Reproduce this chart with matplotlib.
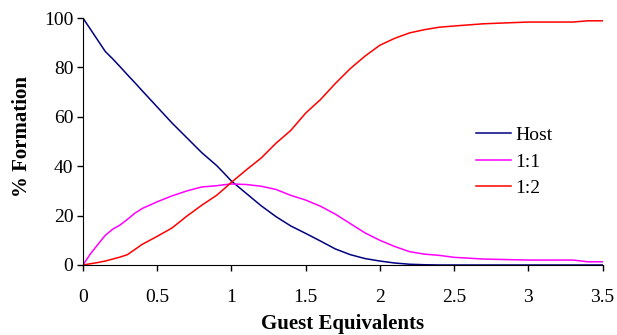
import matplotlib
matplotlib.use('Agg')
import matplotlib.pyplot as plt

# guest equivalents (x) and % formation for each species
equivalents = [0, 0.05, 0.1, 0.15, 0.2, 0.25, 0.3, 0.35, 0.4, 0.5, 0.6, 0.7, 0.8, 0.9,
               0.95, 1.0, 1.1, 1.2, 1.3, 1.4, 1.5, 1.6, 1.7, 1.8, 1.9, 2.0, 2.1, 2.2,
               2.3, 2.4, 2.5, 2.7, 3.0, 3.3, 3.4, 3.5]
host = [100, 95.5, 91, 86.5, 83.5, 80.3, 77, 73.8, 70.5, 64, 57.5, 51.5, 45.5, 40.3,
        37.2, 34, 29, 24, 19.6, 15.8, 12.8, 9.7, 6.5, 4.2, 2.6, 1.6, 0.8, 0.3,
        0.1, 0, 0, 0, 0, 0, 0, 0]
complex_11 = [0, 4.5, 8.3, 12, 14.5, 16.2, 18.5, 21, 22.9, 25.6, 28, 30, 31.6, 32.1,
              32.5, 32.8, 32.6, 31.9, 30.6, 28.2, 26.3, 23.8, 20.6, 16.8, 13, 10, 7.5, 5.4,
              4.4, 3.9, 3.1, 2.4, 2.0, 2.0, 1.3, 1.3]
complex_12 = [0, 0.5, 1, 1.6, 2.4, 3.2, 4.2, 6.3, 8.4, 11.6, 15, 19.8, 24.2, 28.2,
              30.8, 33.5, 38.5, 43.3, 49.3, 54.5, 61.5, 67, 73.5, 79.5, 84.6, 89, 91.8, 94,
              95.3, 96.3, 96.8, 97.7, 98.4, 98.4, 98.9, 98.9]
series_names = ['Host', '1:1', '1:2']
series_colors = ['#000080', '#FF00FF', '#FF0000']

plt.rcParams['font.family'] = 'Liberation Serif'

fig = plt.figure(figsize=(6.17, 3.35), dpi=100)
ax = fig.add_axes([0.1345, 0.209, 0.842, 0.737])

for vals, name, col in zip([host, complex_11, complex_12], series_names, series_colors):
    ax.plot(equivalents, vals, color=col, lw=1.1, label=name)

ax.set_xlim(0, 3.5)
ax.set_ylim(0, 100)
ax.set_xticks([0, 0.5, 1, 1.5, 2, 2.5, 3, 3.5])
ax.set_xticklabels(['0', '0.5', '1', '1.5', '2', '2.5', '3', '3.5'])
ax.set_yticks([0, 20, 40, 60, 80, 100])

ax.spines['top'].set_visible(False)
ax.spines['right'].set_visible(False)
ax.tick_params(axis='both', direction='out', length=4, width=1, labelsize=14)
ax.tick_params(axis='x', pad=13)
ax.tick_params(axis='y', pad=3)

ax.set_xlabel('Guest Equivalents', fontsize=15, fontweight='bold', labelpad=6)
ax.set_ylabel('% Formation', fontsize=15, fontweight='bold', labelpad=6)
ax.yaxis.set_label_coords(-0.099, 0.52)

ax.legend(loc='upper left', bbox_to_anchor=(0.738, 0.60), frameon=False, fontsize=14,
          handlelength=1.8, handletextpad=0.2, labelspacing=0.45, borderpad=0)

fig.savefig('out.png', dpi=100)
